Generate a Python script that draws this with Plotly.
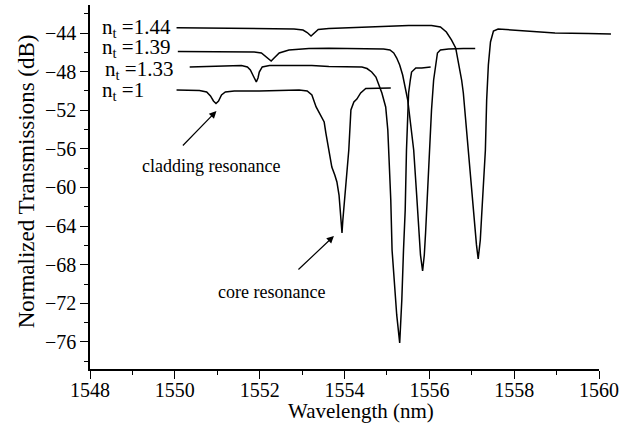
import plotly.graph_objects as go

# ---- data ----
wl_n1 = [1550.04, 1550.35, 1550.58, 1550.75, 1550.84, 1550.91, 1550.97, 1551.03, 1551.10, 1551.19,
         1551.40, 1551.99, 1552.58, 1552.93, 1553.12, 1553.23, 1553.33, 1553.40, 1553.52, 1553.56,
         1553.63, 1553.70, 1553.77, 1553.82, 1553.87, 1553.90, 1553.94, 1553.96, 1553.99, 1554.03,
         1554.10, 1554.15, 1554.22, 1554.29, 1554.38, 1554.50, 1554.81, 1555.09]
db_n1 = [-49.90, -49.90, -49.95, -50.11, -50.52, -51.04, -51.30, -51.04, -50.42, -50.11,
         -50.01, -50.01, -49.90, -49.90, -50.01, -50.42, -51.66, -52.28, -53.22, -54.36,
         -56.32, -57.88, -58.71, -59.43, -60.78, -62.85, -64.71, -63.37, -61.61, -59.22,
         -56.12, -51.97, -51.15, -50.84, -50.21, -49.75, -49.70, -49.70]

wl_n133 = [1550.35, 1550.82, 1551.29, 1551.57, 1551.71, 1551.78, 1551.85, 1551.90, 1551.92, 1551.96,
           1551.99, 1552.06, 1552.23, 1552.69, 1553.23, 1553.63, 1554.10, 1554.41, 1554.53, 1554.64,
           1554.74, 1554.88, 1554.97, 1555.02, 1555.05, 1555.09, 1555.12, 1555.18, 1555.23, 1555.30,
           1555.35, 1555.39, 1555.43, 1555.46, 1555.49, 1555.51, 1555.55, 1555.58, 1555.68, 1555.82,
           1556.03]
db_n133 = [-47.52, -47.47, -47.37, -47.37, -47.52, -47.83, -48.45, -48.97, -49.07, -48.66,
           -48.04, -47.52, -47.37, -47.37, -47.37, -47.47, -47.52, -47.52, -47.68, -48.04,
           -48.56, -50.21, -51.66, -54.05, -57.15, -61.29, -66.47, -70.61, -73.20, -76.10,
           -71.65, -66.47, -62.33, -56.12, -52.49, -50.21, -48.87, -48.04, -47.62, -47.62,
           -47.52]

wl_n139 = [1550.07, 1550.58, 1551.29, 1551.87, 1552.04, 1552.13, 1552.23, 1552.27, 1552.34, 1552.46,
           1552.69, 1553.16, 1553.63, 1554.34, 1554.92, 1555.07, 1555.16, 1555.23, 1555.30, 1555.37,
           1555.44, 1555.49, 1555.56, 1555.63, 1555.70, 1555.75, 1555.79, 1555.84, 1555.88, 1555.91,
           1555.96, 1556.00, 1556.05, 1556.10, 1556.15, 1556.19, 1556.26, 1556.45, 1556.80, 1557.08]
db_n139 = [-45.92, -45.92, -45.97, -45.97, -46.07, -46.38, -46.80, -46.90, -46.59, -46.07,
           -45.76, -45.61, -45.58, -45.61, -45.66, -45.76, -46.07, -46.59, -47.31, -48.35,
           -49.70, -50.94, -53.53, -56.12, -60.78, -64.71, -66.99, -68.65, -66.99, -64.71,
           -60.26, -56.12, -51.97, -48.87, -47.00, -46.07, -45.76, -45.66, -45.61, -45.61]

wl_n144 = [1550.04, 1551.05, 1551.99, 1552.81, 1553.02, 1553.12, 1553.21, 1553.28, 1553.38, 1553.63,
           1554.03, 1554.81, 1555.51, 1556.05, 1556.26, 1556.40, 1556.52, 1556.62, 1556.69, 1556.76,
           1556.80, 1556.87, 1556.94, 1557.04, 1557.11, 1557.15, 1557.20, 1557.23, 1557.27, 1557.32,
           1557.35, 1557.39, 1557.44, 1557.51, 1557.62, 1558.02, 1558.96, 1559.74, 1560.28]
db_n144 = [-43.45, -43.48, -43.53, -43.59, -43.69, -43.95, -44.31, -44.00, -43.64, -43.53,
           -43.45, -43.33, -43.22, -43.22, -43.38, -43.90, -44.72, -45.55, -47.11, -48.87,
           -50.21, -53.84, -57.67, -63.06, -65.95, -67.40, -65.44, -63.06, -59.74, -56.12,
           -50.94, -47.31, -44.93, -43.79, -43.59, -43.69, -44.00, -44.05, -44.10]

series_labels = ["n<sub>t</sub> =1.44", "n<sub>t</sub> =1.39", "n<sub>t</sub> =1.33", "n<sub>t</sub> =1"]

x_ticks = [1548, 1550, 1552, 1554, 1556, 1558, 1560]
x_minor = [1549, 1551, 1553, 1555, 1557, 1559]
y_ticks = [-44, -48, -52, -56, -60, -64, -68, -72, -76]
y_ticktext = ["\u221244", "\u221248", "\u221252", "\u221256", "\u221260",
              "\u221264", "\u221268", "\u221272", "\u221276"]
y_minor = [-42, -46, -50, -54, -58, -62, -66, -70, -74, -78]

FONT = "Liberation Serif"

fig = go.Figure()
for wl, db in [(wl_n144, db_n144), (wl_n139, db_n139), (wl_n133, db_n133), (wl_n1, db_n1)]:
    fig.add_trace(go.Scatter(x=wl, y=db, mode="lines", xaxis="x2", yaxis="y2",
                             line=dict(color="black", width=1.5),
                             showlegend=False, hoverinfo="skip"))
# placeholder on the visible axes
fig.add_trace(go.Scatter(x=[], y=[], xaxis="x", yaxis="y", showlegend=False))

L, R, T, B = 90, 22, 5, 62
W, H = 639, 431
plot_w = W - L - R
plot_h = H - T - B
axis_w = 512
x_range = [1548, 1560]
x2_range = [1548, 1548 + (x_range[1] - x_range[0]) * plot_w / axis_w]
y_range = [-78.8, -41.1]

axis_common = dict(showline=True, linecolor="black", linewidth=1.5, showgrid=False,
                   zeroline=False, ticks="outside", ticklen=8, tickwidth=1.3,
                   tickcolor="black", tickfont=dict(family=FONT, size=20, color="black"))

fig.update_layout(
    width=W, height=H,
    font=dict(family=FONT, color="black"),
    margin=dict(l=L, r=R, t=T, b=B),
    paper_bgcolor="white", plot_bgcolor="white",
    xaxis=dict(domain=[0, axis_w / plot_w], range=x_range, anchor="y",
               tickmode="array", tickvals=x_ticks, ticklabelstandoff=-6,
               minor=dict(tickvals=x_minor, ticks="outside", ticklen=4, tickwidth=1.3, tickcolor="black"),
               **axis_common),
    yaxis=dict(domain=[0, 1], range=y_range, anchor="x",
               tickmode="array", tickvals=y_ticks, ticktext=y_ticktext,
               minor=dict(tickvals=y_minor, ticks="outside", ticklen=4, tickwidth=1.3, tickcolor="black"),
               **axis_common),
    xaxis2=dict(domain=[0, 1], range=x2_range, anchor="y2", visible=False),
    yaxis2=dict(domain=[0, 1], range=y_range, anchor="x2", visible=False),
)

def px_x(p):
    return (p - L) / plot_w

def px_y(p):
    return (H - B - p) / plot_h

# axis titles
fig.add_annotation(x=px_x(363), y=px_y(411), xref="paper", yref="paper", text="Wavelength (nm)",
                   showarrow=False, xanchor="center", yanchor="middle",
                   font=dict(family=FONT, size=21, color="black"))
fig.add_annotation(x=px_x(27), y=px_y(181), xref="paper", yref="paper", text="Normalized Transmissions (dB)",
                   showarrow=False, xanchor="center", yanchor="middle", textangle=-90,
                   font=dict(family=FONT, size=23, color="black"))

# series labels
label_x = [1548.24, 1548.24, 1548.30, 1548.24]
label_y = [-43.5, -45.6, -47.8, -50.0]
for txt, lx, ly in zip(series_labels, label_x, label_y):
    fig.add_annotation(x=lx, y=ly, xref="x", yref="y", text=txt, showarrow=False,
                       xanchor="left", yanchor="middle",
                       font=dict(family=FONT, size=21, color="black"))

# resonance labels with arrows
fig.add_annotation(x=1550.86, y=-57.8, xref="x", yref="y", text="cladding resonance",
                   showarrow=False, font=dict(family=FONT, size=18, color="black"))
fig.add_annotation(x=1552.27, y=-70.8, xref="x", yref="y", text="core resonance",
                   showarrow=False, font=dict(family=FONT, size=18, color="black"))
fig.add_annotation(x=1550.98, y=-52.08, xref="x", yref="y", text="", showarrow=True,
                   ax=-35, ay=36, arrowhead=2, arrowsize=1.2, arrowwidth=1.2, arrowcolor="black", standoff=0)
fig.add_annotation(x=1553.75, y=-65.02, xref="x", yref="y", text="", showarrow=True,
                   ax=-37, ay=35, arrowhead=2, arrowsize=1.2, arrowwidth=1.2, arrowcolor="black", standoff=0)

fig.write_html("out.html")
